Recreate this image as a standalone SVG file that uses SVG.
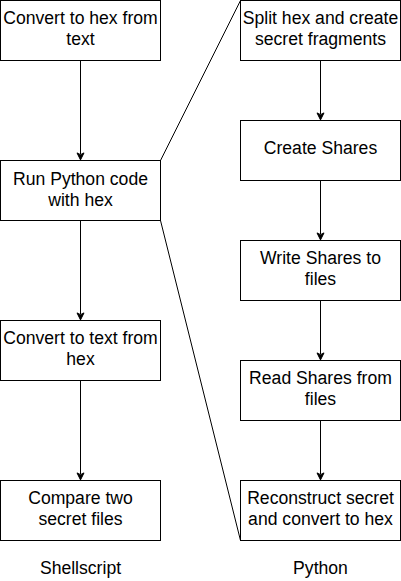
<svg xmlns="http://www.w3.org/2000/svg" width="401" height="581" viewBox="0 0 401 581">
<style>
.box{fill:#fff;stroke:#000;stroke-width:1}
.t{font-family:"Liberation Sans",Arial,sans-serif;font-size:17.6px;fill:#000;text-anchor:middle}
.e{fill:none;stroke:#000;stroke-width:1}
.ah{fill:#000;stroke:#000;stroke-width:1}
</style>
<defs>
<path id="arrow" class="ah" d="M0,0 L-3.5,-7 L0,-5.25 L3.5,-7 Z"/>
</defs>
<rect width="401" height="581" fill="#fff"/>
<g id="connectors">
<path class="e" d="M80.5,60.5 V154.1"/><use href="#arrow" x="80.5" y="159.9"/>
<path class="e" d="M80.5,220.5 V314.1"/><use href="#arrow" x="80.5" y="319.9"/>
<path class="e" d="M80.5,380.5 V474.1"/><use href="#arrow" x="80.5" y="479.9"/>
<path class="e" d="M320.5,60.5 V114.1"/><use href="#arrow" x="320.5" y="119.9"/>
<path class="e" d="M320.5,180.5 V234.1"/><use href="#arrow" x="320.5" y="239.9"/>
<path class="e" d="M320.5,300.5 V354.1"/><use href="#arrow" x="320.5" y="359.9"/>
<path class="e" d="M320.5,420.5 V474.1"/><use href="#arrow" x="320.5" y="479.9"/>
<path class="e" d="M160.5,160.5 L240.5,0.5"/>
<path class="e" d="M160.5,220.5 L240.5,540.5"/>
</g>
<g id="n1"><rect class="box" x="0.5" y="0.5" width="160" height="60"/><text class="t" x="80.5" y="24">Convert to hex from</text><text class="t" x="80.5" y="45">text</text></g>
<g id="n2"><rect class="box" x="0.5" y="160.5" width="160" height="60"/><text class="t" x="80.5" y="185">Run Python code</text><text class="t" x="80.5" y="206">with hex</text></g>
<g id="n3"><rect class="box" x="0.5" y="320.5" width="160" height="60"/><text class="t" x="80.5" y="344">Convert to text from</text><text class="t" x="80.5" y="365">hex</text></g>
<g id="n4"><rect class="box" x="0.5" y="480.5" width="160" height="60"/><text class="t" x="80.5" y="504">Compare two</text><text class="t" x="80.5" y="525">secret files</text></g>
<g id="n5"><rect class="box" x="240.5" y="0.5" width="160" height="60"/><text class="t" x="320.5" y="24">Split hex and create</text><text class="t" x="320.5" y="45">secret fragments</text></g>
<g id="n6"><rect class="box" x="240.5" y="120.5" width="160" height="60"/><text class="t" x="320.5" y="154">Create Shares</text></g>
<g id="n7"><rect class="box" x="240.5" y="240.5" width="160" height="60"/><text class="t" x="320.5" y="264">Write Shares to</text><text class="t" x="320.5" y="285">files</text></g>
<g id="n8"><rect class="box" x="240.5" y="360.5" width="160" height="60"/><text class="t" x="320.5" y="384">Read Shares from</text><text class="t" x="320.5" y="405">files</text></g>
<g id="n9"><rect class="box" x="240.5" y="480.5" width="160" height="60"/><text class="t" x="320.5" y="504">Reconstruct secret</text><text class="t" x="320.5" y="525">and convert to hex</text></g>
<g id="labels"><text class="t" x="80.5" y="574">Shellscript</text><text class="t" x="320.5" y="574">Python</text></g>
</svg>
